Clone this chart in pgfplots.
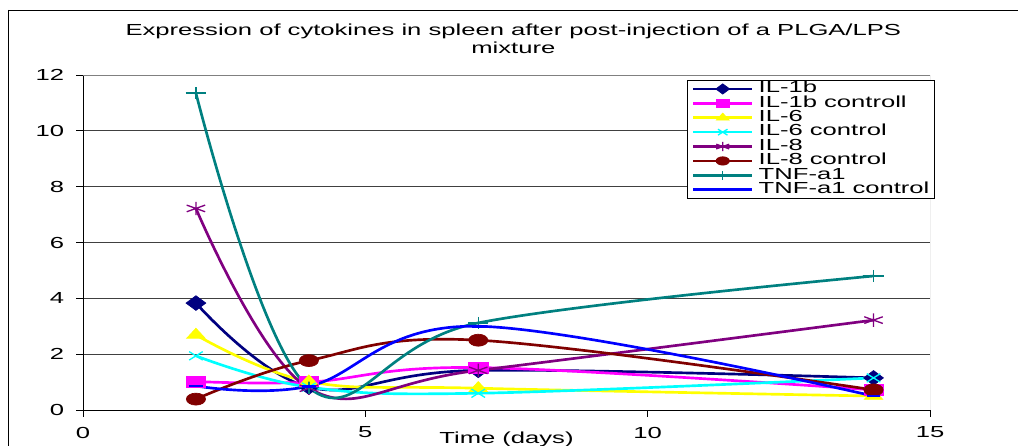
\documentclass[border=0pt]{standalone}
\usepackage{pgfplots}
\pgfplotsset{compat=1.18}
\usepackage{fontspec}
\setmainfont{Liberation Sans}[FakeStretch=1.6]
\definecolor{cNavy}{RGB}{0,0,128}
\definecolor{cMag}{RGB}{255,0,255}
\definecolor{cYel}{RGB}{255,255,0}
\definecolor{cCyan}{RGB}{0,255,255}
\definecolor{cPurp}{RGB}{128,0,128}
\definecolor{cDred}{RGB}{128,0,0}
\definecolor{cTeal}{RGB}{0,128,128}
\definecolor{cBlue}{RGB}{0,0,255}
\begin{document}
\begin{tikzpicture}
\useasboundingbox (0pt,0pt) rectangle (763.5pt,334.5pt);
\fontsize{12}{12}\selectfont
\draw[black, line width=0.7pt] (6pt,327pt) -- (800pt,327pt);
\draw[black, line width=0.7pt] (6pt,327pt) -- (6pt,-20pt);
\node[anchor=base, inner sep=0pt, font=\fontsize{12}{12}\selectfont] at (385pt,307.5pt) {Expression of cytokines in spleen after post-injection of a PLGA/LPS};
\node[anchor=base, inner sep=0pt, font=\fontsize{12}{12}\selectfont] at (385pt,294.4pt) {mixture};
\begin{axis}[
  at={(62.25pt,27pt)}, anchor=south west,
  scale only axis, width=635.25pt, height=251.25pt,
  xmin=0, xmax=15, ymin=0, ymax=12,
  xtick={0,5,10,15}, ytick={0,2,4,6,8,10,12},
  axis x line*=bottom, axis y line*=left,
  axis line style={black, line width=0.7pt},
  tick align=outside, major tick length=5pt,
  tick style={black, line width=0.7pt},
  ymajorgrids, grid style={black!75, line width=0.6pt},
  /pgf/number format/assume math mode=true,
  ticklabel style={font=\fontsize{12}{12}\selectfont},
  xticklabel style={yshift=-3.5pt},
  yticklabel style={xshift=-5pt},
  xlabel={Time (days)},
  xlabel style={at={(axis description cs:0.5,-0.1)}, anchor=base, font=\fontsize{12}{12}\selectfont, inner sep=0pt},
  every axis plot/.append style={line width=2pt, smooth, tension=0.62},
  legend cell align=left,
  legend image code/.code={\draw[mark repeat=2,mark phase=2,#1,every mark/.append style={scale=0.7}] plot coordinates {(0pt,0pt) (22pt,0pt) (44pt,0pt)};},
  legend style={at={(rel axis cs:0.7131,0.985)}, anchor=north west, draw=black, line width=0.6pt, fill=white,
    inner xsep=3.5pt, inner ysep=1pt, column sep=4pt, row sep=0pt,
    font=\fontsize{12}{12}\selectfont,
    nodes={inner sep=0pt, text height=8.2pt, text depth=2.6pt}},
]
\draw[gray, line width=0.7pt] (rel axis cs:1,0) -- (rel axis cs:1,1);
\draw[gray, line width=0.7pt] (rel axis cs:0,1) -- (rel axis cs:1,1);
\addplot[color=cNavy, mark=diamond*, mark size=5.5pt, mark options={fill=cNavy, line width=0.5pt, xscale=1.8}]
  coordinates {(2,3.83) (4,0.82) (7,1.42) (14,1.15)};
\addlegendentry{IL-1b}
\addplot[color=cMag, mark=square*, mark size=4pt, mark options={fill=cMag, line width=0.5pt, xscale=1.8}]
  coordinates {(2,1.02) (4,1.0) (7,1.52) (14,0.72)};
\addlegendentry{IL-1b controll}
\addplot[color=cYel, mark=triangle*, mark size=5pt, mark options={fill=cYel, line width=0.5pt, xscale=1.6}]
  coordinates {(2,2.69) (4,1.02) (7,0.78) (14,0.5)};
\addlegendentry{IL-6}
\addplot[color=cCyan, mark=x, mark size=4.5pt, mark options={line width=1pt, xscale=1.6}]
  coordinates {(2,1.94) (4,0.82) (7,0.6) (14,1.15)};
\addlegendentry{IL-6 control}
\addplot[color=cPurp, mark=asterisk, mark size=5pt, mark options={line width=1pt, xscale=1.6}]
  coordinates {(2,7.22) (4,0.78) (7,1.42) (14,3.22)};
\addlegendentry{IL-8}
\addplot[color=cDred, mark=*, mark size=4.5pt, mark options={fill=cDred, line width=0.5pt, xscale=1.6}]
  coordinates {(2,0.39) (4,1.77) (7,2.5) (14,0.72)};
\addlegendentry{IL-8 control}
\addplot[color=cTeal, mark=+, mark size=4.5pt, mark options={line width=1pt, xscale=1.7}]
  coordinates {(2,11.35) (4,0.8) (7,3.12) (14,4.8)};
\addlegendentry{TNF-a1}
\addplot[color=cBlue, mark=-, mark size=5pt, mark options={line width=2pt}]
  coordinates {(2,0.86) (4,0.85) (7,3.0) (14,0.5)};
\addlegendentry{TNF-a1 control}
\end{axis}
\end{tikzpicture}
\end{document}
